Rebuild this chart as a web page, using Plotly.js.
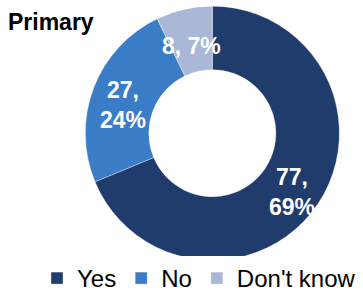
<!DOCTYPE html>
<html>
<head>
<meta charset="utf-8">
<script src="https://cdn.plot.ly/plotly-3.0.1.min.js"></script>
<style>html,body{margin:0;padding:0;background:#fff;}#chart{width:363px;height:301px;}</style>
</head>
<body>
<div id="chart"></div>
<script>
const categories = ["Yes", "No", "Don't know"];
const counts = [77, 27, 8];
const labelSeparators = [",<br>", ",<br>", ", "];
const sliceColors = ["#1F3C6D", "#3B7CC6", "#A8B8D6"];

const W = 363, H = 301;
const HOLE = 0.5;
const domainX = [0.235, 0.935];
const domainY = [0.13, 0.985];

const total = counts.reduce((a, b) => a + b, 0);
const sliceText = counts.map((v, i) => v + labelSeparators[i] + Math.round(v / total * 100) + "%");

// label positions at the radial midpoint of each slice (clockwise from 12 o'clock)
const cxPx = (domainX[0] + domainX[1]) / 2 * W;
const cyPx = (1 - (domainY[0] + domainY[1]) / 2) * H;
const Rpx = Math.min((domainX[1] - domainX[0]) * W, (domainY[1] - domainY[0]) * H) / 2;
const rMid = Rpx * (1 + HOLE) / 2;
let cum = 0;
const annotations = counts.map((v, i) => {
  const midFrac = (cum + v / 2) / total;
  cum += v;
  const ang = midFrac * 2 * Math.PI;
  const px = cxPx + rMid * Math.sin(ang);
  const py = cyPx - rMid * Math.cos(ang);
  return {
    x: px / W, y: 1 - py / H, xref: "paper", yref: "paper",
    xanchor: "center", yanchor: "middle", showarrow: false, yshift: -6,
    text: "<b>" + sliceText[i] + "</b>",
    font: { family: "Liberation Sans, Arial, sans-serif", size: 23, color: "#ffffff" }
  };
});

const trace = {
  type: "pie",
  labels: categories,
  values: counts,
  textinfo: "none",
  hole: HOLE,
  sort: false,
  direction: "clockwise",
  rotation: 0,
  marker: { colors: sliceColors, line: { color: "rgba(255,255,255,0.35)", width: 1 } },
  domain: { x: domainX, y: domainY },
  hoverinfo: "none"
};

const layout = {
  width: W,
  height: H,
  margin: { l: 0, r: 0, t: 0, b: 0 },
  paper_bgcolor: "#ffffff",
  title: {
    text: "<b>Primary</b>",
    font: { family: "Liberation Sans, Arial, sans-serif", size: 23, color: "#000000" },
    x: 0.022, xanchor: "left", y: 0.927, yanchor: "middle"
  },
  annotations: annotations,
  showlegend: true,
  legend: {
    orientation: "h",
    x: 0.102, xanchor: "left",
    y: 0, yanchor: "bottom",
    font: { family: "Liberation Sans, Arial, sans-serif", size: 24, color: "#000000" },
    itemwidth: 30,
    traceorder: "normal"
  }
};

Plotly.newPlot("chart", [trace], layout, { staticPlot: true });
</script>
</body>
</html>
